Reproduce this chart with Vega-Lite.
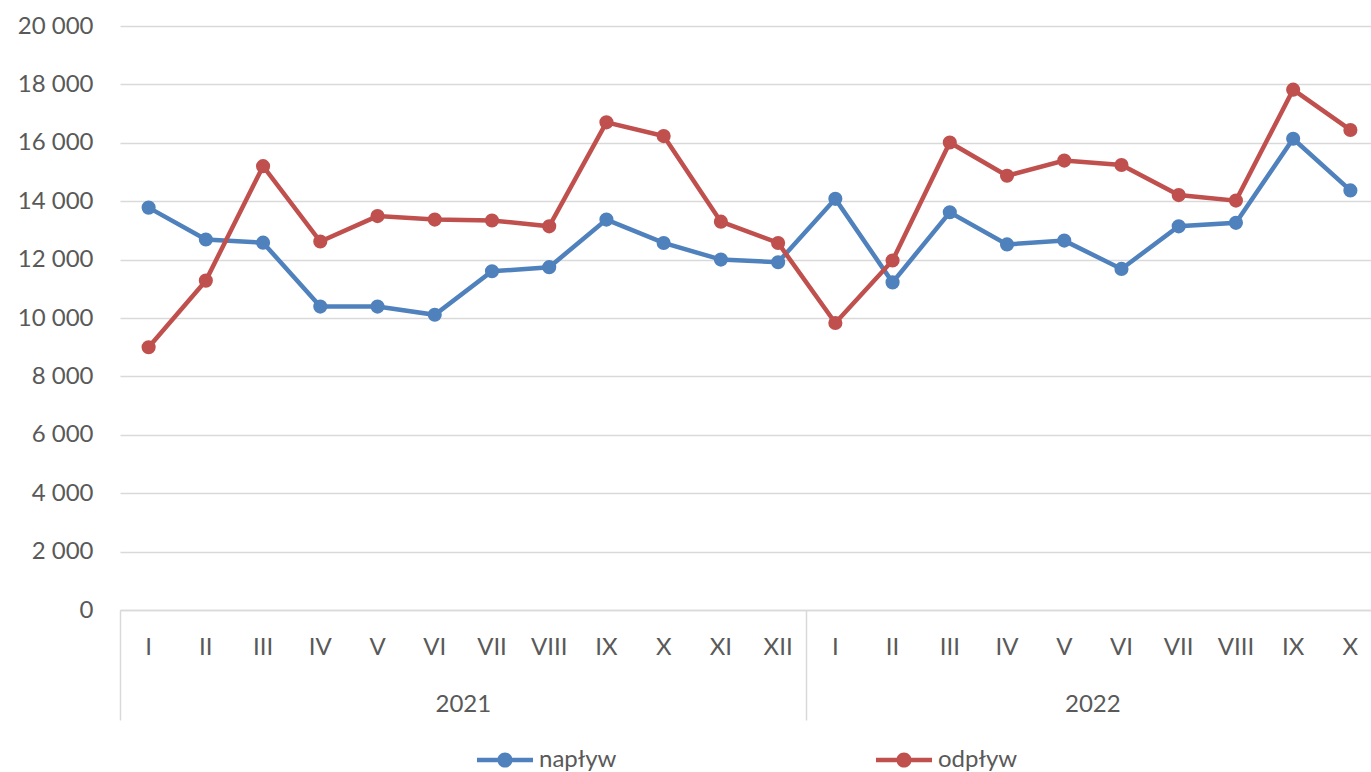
{
  "$schema": "https://vega.github.io/schema/vega-lite/v6.json",
  "width": 1259,
  "height": 584,
  "autosize": {"type": "none"},
  "padding": {"left": 120, "top": 26, "right": -8, "bottom": 162},
  "background": "white",
  "config": {
    "view": {"stroke": null},
    "font": "Lato",
    "legend": {
      "orient": "none",
      "legendX": 357,
      "legendY": 706,
      "direction": "horizontal",
      "labelFont": "Lato",
      "labelFontSize": 24,
      "labelColor": "#595959",
      "symbolType": "M-1,-0.08 L1,-0.08 L1,0.08 L-1,0.08 Z M0.27,0 A0.27,0.27 0 1,1 -0.27,0 A0.27,0.27 0 1,1 0.27,0 Z",
      "symbolSize": 3136,
      "symbolStrokeWidth": 0,
      "columnPadding": 259,
      "labelOffset": 6
    }
  },
  "data": {
    "values": [
      {"key": "2021-I", "series": "napływ", "value": 13780},
      {"key": "2021-II", "series": "napływ", "value": 12690},
      {"key": "2021-III", "series": "napływ", "value": 12580},
      {"key": "2021-IV", "series": "napływ", "value": 10390},
      {"key": "2021-V", "series": "napływ", "value": 10390},
      {"key": "2021-VI", "series": "napływ", "value": 10110},
      {"key": "2021-VII", "series": "napływ", "value": 11600},
      {"key": "2021-VIII", "series": "napływ", "value": 11740},
      {"key": "2021-IX", "series": "napływ", "value": 13370},
      {"key": "2021-X", "series": "napływ", "value": 12570},
      {"key": "2021-XI", "series": "napływ", "value": 12000},
      {"key": "2021-XII", "series": "napływ", "value": 11910},
      {"key": "2022-I", "series": "napływ", "value": 14080},
      {"key": "2022-II", "series": "napływ", "value": 11220},
      {"key": "2022-III", "series": "napływ", "value": 13620},
      {"key": "2022-IV", "series": "napływ", "value": 12520},
      {"key": "2022-V", "series": "napływ", "value": 12650},
      {"key": "2022-VI", "series": "napływ", "value": 11680},
      {"key": "2022-VII", "series": "napływ", "value": 13140},
      {"key": "2022-VIII", "series": "napływ", "value": 13260},
      {"key": "2022-IX", "series": "napływ", "value": 16140},
      {"key": "2022-X", "series": "napływ", "value": 14370},
      {"key": "2021-I", "series": "odpływ", "value": 9000},
      {"key": "2021-II", "series": "odpływ", "value": 11280},
      {"key": "2021-III", "series": "odpływ", "value": 15200},
      {"key": "2021-IV", "series": "odpływ", "value": 12620},
      {"key": "2021-V", "series": "odpływ", "value": 13490},
      {"key": "2021-VI", "series": "odpływ", "value": 13370},
      {"key": "2021-VII", "series": "odpływ", "value": 13340},
      {"key": "2021-VIII", "series": "odpływ", "value": 13140},
      {"key": "2021-IX", "series": "odpływ", "value": 16700},
      {"key": "2021-X", "series": "odpływ", "value": 16230},
      {"key": "2021-XI", "series": "odpływ", "value": 13300},
      {"key": "2021-XII", "series": "odpływ", "value": 12570},
      {"key": "2022-I", "series": "odpływ", "value": 9830},
      {"key": "2022-II", "series": "odpływ", "value": 11970},
      {"key": "2022-III", "series": "odpływ", "value": 16010},
      {"key": "2022-IV", "series": "odpływ", "value": 14870},
      {"key": "2022-V", "series": "odpływ", "value": 15390},
      {"key": "2022-VI", "series": "odpływ", "value": 15240},
      {"key": "2022-VII", "series": "odpływ", "value": 14210},
      {"key": "2022-VIII", "series": "odpływ", "value": 14020},
      {"key": "2022-IX", "series": "odpływ", "value": 17820},
      {"key": "2022-X", "series": "odpływ", "value": 16440}
    ]
  },
  "layer": [
    {
      "mark": {"type": "line", "strokeWidth": 4.5},
      "encoding": {
        "x": {
          "field": "key", "type": "ordinal", "sort": null,
          "scale": {"type": "band", "paddingInner": 0, "paddingOuter": 0},
          "axis": {
            "title": null,
            "orient": "bottom",
            "labelExpr": "split(datum.value, '-')[1]",
            "labelAngle": 0,
            "labelFont": "Lato",
            "labelFontSize": 24,
            "labelColor": "#595959",
            "labelPadding": 25,
            "ticks": false,
            "domainColor": "#D9D9D9",
            "domainWidth": 1.5,
            "grid": false
          }
        },
        "y": {
          "field": "value", "type": "quantitative",
          "scale": {"domain": [0, 20000], "nice": false},
          "axis": {
            "title": null,
            "values": [0, 2000, 4000, 6000, 8000, 10000, 12000, 14000, 16000, 18000, 20000],
            "labelExpr": "replace(format(datum.value, ','), ',', ' ')",
            "labelFont": "Lato",
            "labelFontSize": 24,
            "labelColor": "#595959",
            "labelPadding": 27,
            "ticks": false,
            "domain": false,
            "grid": true,
            "gridColor": "#D9D9D9",
            "gridWidth": 1.5
          }
        },
        "color": {
          "field": "series", "type": "nominal",
          "scale": {"domain": ["napływ", "odpływ"], "range": ["#4F81BD", "#C0504D"]},
          "legend": {"title": null}
        }
      }
    },
    {
      "mark": {"type": "point", "filled": true, "size": 200, "opacity": 1},
      "encoding": {
        "x": {
          "field": "key", "type": "ordinal", "sort": null,
          "scale": {"type": "band", "paddingInner": 0, "paddingOuter": 0},
          "axis": {
            "title": null,
            "orient": "bottom",
            "bandPosition": 0,
            "labelExpr": "datum.value == '2021-VII' ? '2021' : datum.value == '2022-VI' ? '2022' : ''",
            "labelOffset": -28.6,
            "labelAngle": 0,
            "labelFont": "Lato",
            "labelFontSize": 24,
            "labelColor": "#595959",
            "labelPadding": -28,
            "ticks": true,
            "tickSize": 110,
            "tickColor": "#D9D9D9",
            "tickWidth": 1.5,
            "tickOpacity": {"condition": {"test": "datum.value == '2021-I' || datum.value == '2022-I'", "value": 1}, "value": 0},
            "domain": false,
            "grid": false
          }
        },
        "y": {"field": "value", "type": "quantitative"},
        "color": {"field": "series", "type": "nominal"}
      }
    }
  ],
  "resolve": {"axis": {"x": "independent"}}
}
